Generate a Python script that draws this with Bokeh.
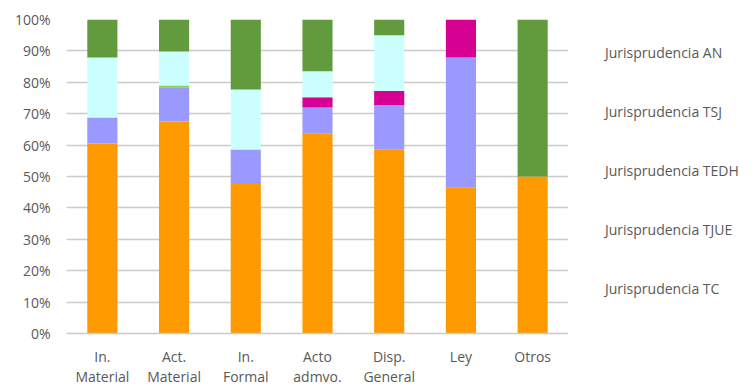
from bokeh.plotting import figure
from bokeh.layouts import row
from bokeh.models import ColumnDataSource, FactorRange, Range1d, NumeralTickFormatter, Legend, LegendItem, FixedTicker
from bokeh.embed import file_html
from bokeh.resources import INLINE

categories = ["In.\nMaterial", "Act.\nMaterial", "In.\nFormal", "Acto\nadmvo.", "Disp.\nGeneral", "Ley", "Otros"]
series_names = ["Jurisprudencia TS", "Jurisprudencia TC", "Jurisprudencia TJUE",
                "Jurisprudencia TEDH", "Jurisprudencia TSJ", "Jurisprudencia AN"]
ts   = [0.605, 0.675, 0.479, 0.638, 0.587, 0.466, 0.500]
tc   = [0.083, 0.109, 0.107, 0.082, 0.140, 0.413, 0.000]
tjue = [0.000, 0.000, 0.000, 0.032, 0.045, 0.121, 0.000]
tedh = [0.000, 0.006, 0.000, 0.000, 0.000, 0.000, 0.000]
tsj  = [0.191, 0.108, 0.191, 0.083, 0.178, 0.000, 0.000]
an   = [0.121, 0.102, 0.223, 0.165, 0.050, 0.000, 0.500]
colors = ["#FF9900", "#9999FF", "#D60093", "#92D050", "#CCFFFF", "#629A3E"]
y_ticks = [0, 0.1, 0.2, 0.3, 0.4, 0.5, 0.6, 0.7, 0.8, 0.9, 1.0]

keys = ["ts", "tc", "tjue", "tedh", "tsj", "an"]
source = ColumnDataSource(data=dict(cat=categories, ts=ts, tc=tc, tjue=tjue, tedh=tedh, tsj=tsj, an=an))

FONT = "Open Sans"
TXT = "#595959"
GRID = "#CACACA"

p = figure(width=568, height=389, output_backend="svg", toolbar_location=None,
           x_range=FactorRange(*categories, range_padding=0), y_range=Range1d(0, 1),
           min_border_left=66, min_border_right=0, min_border_top=19, min_border_bottom=55)
p.outline_line_color = None
p.background_fill_color = "white"

p.vbar_stack(keys, x="cat", width=0.42, source=source, color=colors, line_color=None)

p.xgrid.grid_line_color = None
p.ygrid.grid_line_color = GRID
p.ygrid.grid_line_width = 1.5
p.ygrid.ticker = FixedTicker(ticks=y_ticks)

p.yaxis.ticker = FixedTicker(ticks=y_ticks)
p.yaxis.formatter = NumeralTickFormatter(format="0%")
p.yaxis.axis_line_color = None
p.yaxis.major_tick_line_color = None
p.yaxis.minor_tick_line_color = None
p.yaxis.major_tick_out = 0
p.yaxis.major_tick_in = 0
p.yaxis.minor_tick_out = 0
p.yaxis.major_label_standoff = 16
p.yaxis.major_label_text_font = FONT
p.yaxis.major_label_text_font_size = "14px"
p.yaxis.major_label_text_color = TXT

p.xaxis.axis_line_color = GRID
p.xaxis.axis_line_width = 1.5
p.xaxis.major_tick_line_color = None
p.xaxis.minor_tick_line_color = None
p.xaxis.major_tick_out = 0
p.xaxis.major_tick_in = 0
p.xaxis.minor_tick_out = 0
p.xaxis.major_label_standoff = 13
p.xaxis.major_label_text_font = FONT
p.xaxis.major_label_text_font_size = "14px"
p.xaxis.major_label_text_color = TXT
p.xaxis.major_label_text_line_height = 1.1

# legend panel
p2 = figure(width=187, height=389, output_backend="svg", toolbar_location=None,
            x_range=Range1d(0, 1), y_range=Range1d(0, 1),
            x_axis_type=None, y_axis_type=None,
            min_border_left=0, min_border_right=0, min_border_top=8, min_border_bottom=0)
p2.outline_line_color = None
p2.xgrid.grid_line_color = None
p2.ygrid.grid_line_color = None
dummy = ColumnDataSource(data=dict(x=[], top=[]))
legend_rs = [p2.vbar(x="x", top="top", width=0.1, source=dummy, color=c, line_color=None) for c in colors]

items = [LegendItem(label=series_names[i], renderers=[legend_rs[i]]) for i in range(5, -1, -1)]
legend = Legend(items=items, location="top_left", orientation="vertical",
                glyph_width=9, glyph_height=9, label_height=20, spacing=39,
                label_standoff=5, padding=0, margin=23,
                border_line_color=None, background_fill_alpha=0,
                label_text_font=FONT, label_text_font_size="14px", label_text_color=TXT)
p2.add_layout(legend)

layout = row(p, p2)
open("out.html", "w").write(file_html(layout, INLINE))
